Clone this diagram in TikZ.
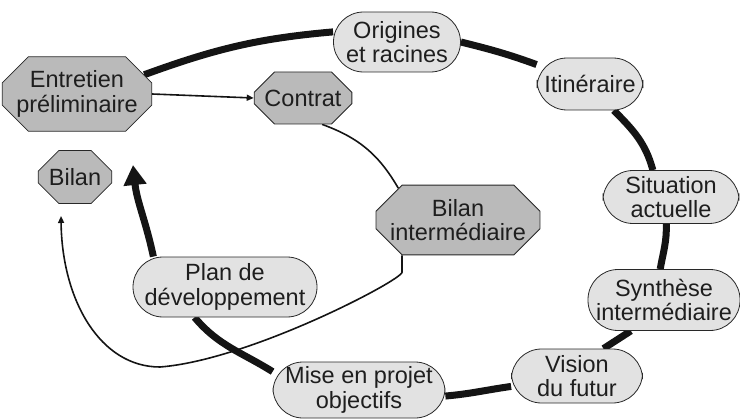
\documentclass[tikz,border=0pt]{standalone}
\usepackage{fontspec}
\setmainfont{Liberation Sans}
\usetikzlibrary{
    arrows.meta,
    shapes.misc,
    backgrounds
}

\definecolor{octgray}{RGB}{186,186,186}
\definecolor{pillgray}{RGB}{226,226,226}
\definecolor{edgegray}{RGB}{40,40,40}
\definecolor{textgray}{RGB}{30,30,30}

\tikzset{
    pill/.style={draw=edgegray, line width=0.8pt, fill=pillgray,
        rounded corners=30pt, align=center, inner sep=1pt, text=textgray,
        font=\fontsize{23.5}{24.5}\selectfont},
    octo/.style={draw=edgegray, line width=0.8pt, fill=octgray,
        chamfered rectangle, chamfered rectangle xsep=#1,
        chamfered rectangle ysep=#1, align=center, inner sep=1pt, text=textgray,
        font=\fontsize{23.5}{24.5}\selectfont},
    octo/.default=13pt,
    cycleline/.style={line width=7pt, draw=black!92},
    thinline/.style={line width=1.6pt, draw=black!92}
}

\begin{document}
\begin{tikzpicture}[x=1pt,y=1pt]

\useasboundingbox (0,0) rectangle (740,-420);

% Octagons
\node[octo, minimum width=139pt, minimum height=60pt] (entretien) at (77,-94) {Entretien\\préliminaire};
\node[octo=11pt, minimum width=88pt, minimum height=52pt] (contrat) at (303,-98) {Contrat};
\node[octo=11pt, minimum width=67pt, minimum height=53pt] (bilan) at (75,-177) {Bilan};
\node[octo, minimum width=163pt, minimum height=61pt] (bilaninter) at (458,-220) {Bilan\\intermédiaire};

% Rounded steps
\node[pill, minimum width=127pt, minimum height=60pt] (origines) at (397,-42) {Origines\\et racines};
\node[pill, minimum width=106pt, minimum height=52pt] (itineraire) at (590,-84) {Itinéraire};
\node[pill, minimum width=136pt, minimum height=53pt] (situation) at (671,-197) {Situation\\actuelle};
\node[pill, minimum width=152pt, minimum height=61pt] (synthese) at (664,-300) {Synthèse\\intermédiaire};
\node[pill, minimum width=131pt, minimum height=54pt] (vision) at (577,-376) {Vision\\du futur};
\node[pill, minimum width=172pt, minimum height=56pt] (mise) at (359,-390) {Mise en projet\\objectifs};
\node[pill, minimum width=184pt, minimum height=60pt] (plan) at (225,-287) {Plan de\\développement};

% Free ends
\coordinate (cycletip) at (133,-165);
\coordinate (bilantip) at (61,-216);

\begin{scope}[on background layer]
% Main cycle
\draw[cycleline] (entretien.16) to[out=20,in=185] (origines.171);
\draw[cycleline] (origines.east) to[out=-14,in=160] (itineraire.160);
\draw[cycleline] (itineraire.-48) to[out=-45,in=105] (situation.124);
\draw[cycleline] (situation.-100) to[out=-88,in=80] (synthese.97);
\draw[cycleline] (synthese.-137) -- (vision.46);
\draw[cycleline] (vision.-171) to[out=188,in=5] (mise.-4);
\draw[cycleline] (mise.168) to[out=148,in=-50] (plan.-135);
\draw[cycleline, -{Triangle[length=20pt,width=22pt]}] (plan.157) to[out=102,in=-84] (cycletip);

% Side path
\draw[thinline, -{Triangle[length=7pt,width=6pt]}] (entretien.east) -- (contrat.west);
\draw[thinline] (contrat.-54) to[out=-20,in=120] (bilaninter.152);
\draw[thinline, -{Triangle[length=7pt,width=6pt]}] ([xshift=-56pt]bilaninter.south) -- ++(0,-17)
    .. controls (402,-280) and (250,-360) .. (160,-367)
    .. controls (100,-367) and (62,-300) .. (bilantip);
\end{scope}

\end{tikzpicture}
\end{document}
